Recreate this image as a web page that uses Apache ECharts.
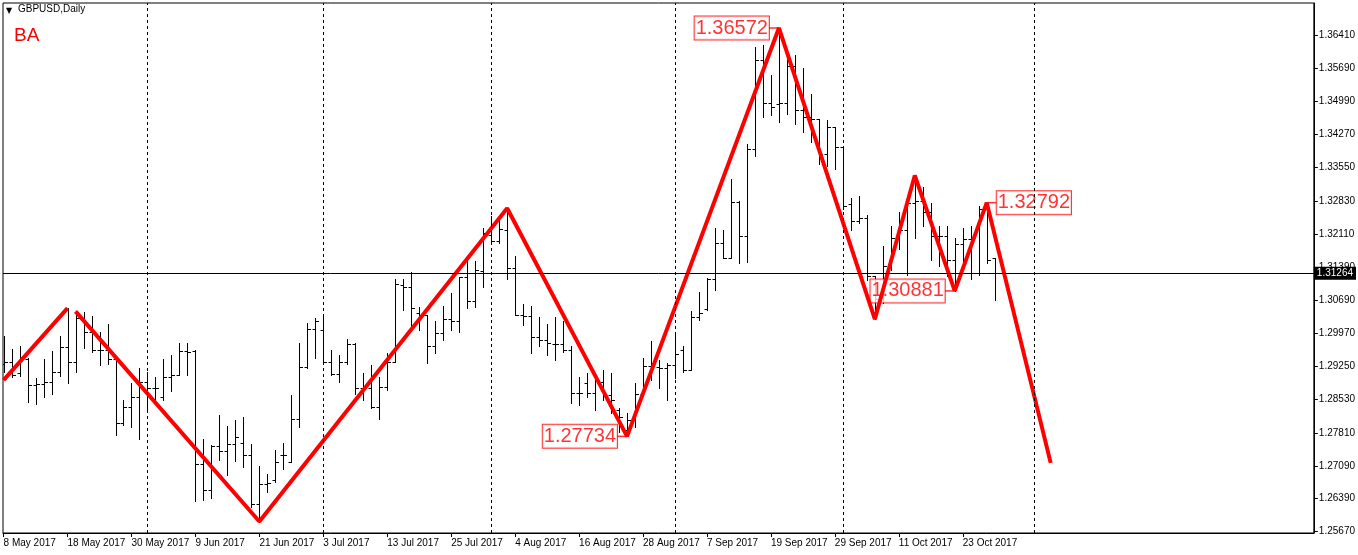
<!DOCTYPE html>
<html>
<head>
<meta charset="utf-8">
<script src="https://cdn.jsdelivr.net/npm/echarts@6/dist/echarts.min.js"></script>
<style>html,body{margin:0;padding:0;background:#fff}#c{width:1358px;height:555px}</style>
</head>
<body>
<div id="c"></div>
<script>
// ---- Data (GBPUSD Daily, one bar per trading day starting 8 May 2017) ----
const openP = [
1.2931,1.2935,1.2910,1.2940,1.2884,1.2886,1.2892,1.2913,1.2966,1.2935,
1.3030,1.3000,1.2960,1.2960,1.2940,1.2802,1.2836,1.2858,1.2892,1.2879,
1.2859,1.2902,1.2906,1.2958,1.2959,1.2714,1.2657,1.2752,1.2742,1.2756,
1.2759,1.2734,1.2628,1.2671,1.2678,1.2734,1.2718,1.2812,1.2923,1.3005,
1.3003,1.2934,1.2908,1.2934,1.2973,1.2879,1.2877,1.2836,1.2881,1.2935,
1.3102,1.3097,1.3040,1.3037,1.2970,1.2997,1.3028,1.3022,1.3118,1.3066,
1.3131,1.3210,1.3196,1.3221,1.3138,1.3037,1.3033,1.2989,1.2982,1.2973,
1.2973,1.2960,1.2868,1.2888,1.2868,1.2892,1.2863,1.2830,1.2787,1.2808,
1.2866,1.2926,1.2923,1.2921,1.2928,1.2960,1.2918,1.3031,1.3050,1.3114,
1.3192,1.3160,1.3281,1.3207,1.3395,1.3587,1.3495,1.3493,1.3495,1.3576,
1.3480,1.3465,1.3460,1.3384,1.3442,1.3399,1.3276,1.3240,1.3247,1.3120,
1.3075,1.3142,1.3203,1.3221,1.3279,1.3283,1.3258,1.3207,1.3207,1.3156,
1.3189,1.3200,1.3127,1.3265,1.3160];
const highP = [
1.2991,1.2962,1.2968,1.2942,1.2899,1.2940,1.2959,1.2991,1.3051,1.3044,
1.3042,1.3034,1.3000,1.3017,1.2942,1.2852,1.2888,1.2921,1.2913,1.2902,
1.2940,1.2950,1.2975,1.2976,1.2960,1.2768,1.2754,1.2819,1.2795,1.2808,
1.2815,1.2757,1.2710,1.2692,1.2744,1.2759,1.2863,1.2975,1.3018,1.3029,
1.3033,1.2960,1.2950,1.2984,1.2976,1.2910,1.2928,1.2902,1.2953,1.3114,
1.3113,1.3129,1.3053,1.3037,1.3022,1.3056,1.3084,1.3118,1.3160,1.3153,
1.3225,1.3250,1.3247,1.3267,1.3163,1.3060,1.3055,1.3031,1.3017,1.3031,
1.3022,1.2969,1.2901,1.2910,1.2895,1.2917,1.2910,1.2834,1.2823,1.2888,
1.2942,1.2980,1.2939,1.2932,1.3000,1.2968,1.3044,1.3085,1.3116,1.3225,
1.3221,1.3330,1.3283,1.3406,1.3616,1.3621,1.3555,1.36572,1.3598,1.3598,
1.3571,1.3515,1.3460,1.3457,1.3442,1.3402,1.3290,1.3294,1.3252,1.3120,
1.3185,1.3229,1.3258,1.3287,1.3338,1.3312,1.3279,1.3229,1.3229,1.3203,
1.3225,1.3229,1.3272,1.32792,1.3160];
const lowP = [
1.2913,1.2902,1.2905,1.2848,1.2844,1.2859,1.2866,1.2904,1.2888,1.2913,
1.2964,1.2957,1.2928,1.2931,1.2776,1.2797,1.2794,1.2768,1.2830,1.2844,
1.2853,1.2872,1.2906,1.2906,1.2634,1.2636,1.2641,1.2723,1.2689,1.2721,
1.2707,1.2620,1.2589,1.2652,1.2674,1.2703,1.2718,1.2794,1.2921,1.2942,
1.2931,1.2906,1.2892,1.2931,1.2866,1.2852,1.2834,1.2812,1.2873,1.2935,
1.3047,1.3004,1.3004,1.2933,1.2953,1.2982,1.3004,1.3000,1.3051,1.3053,
1.3097,1.3192,1.3192,1.3113,1.3037,1.3015,1.2953,1.2968,1.2950,1.2939,
1.2957,1.2846,1.2841,1.2859,1.2830,1.2852,1.2823,1.2783,1.27734,1.2794,
1.2860,1.2895,1.2877,1.2852,1.2900,1.2913,1.2917,1.3025,1.3047,1.3091,
1.3160,1.3160,1.3149,1.3151,1.3381,1.3464,1.3468,1.3453,1.3471,1.3450,
1.3432,1.3410,1.3363,1.3359,1.3352,1.3265,1.3221,1.3236,1.3112,1.3027,
1.3063,1.3134,1.3178,1.3123,1.3203,1.3229,1.3156,1.3142,1.3120,1.30881,
1.3134,1.3113,1.3123,1.3149,1.3069];
const closeP = [
1.2935,1.2906,1.2945,1.2884,1.2886,1.2892,1.2913,1.2966,1.2935,1.3030,
1.3000,1.2960,1.2960,1.2940,1.2802,1.2836,1.2858,1.2892,1.2879,1.2879,
1.2902,1.2906,1.2958,1.2957,1.2714,1.2657,1.2752,1.2742,1.2756,1.2772,
1.2734,1.2628,1.2671,1.2672,1.2718,1.2732,1.2812,1.2923,1.3005,1.3024,
1.2934,1.2908,1.2934,1.2973,1.2879,1.2877,1.2837,1.2881,1.2935,1.3104,
1.3097,1.3051,1.3037,1.2970,1.2997,1.3028,1.3024,1.3118,1.3066,1.3134,
1.3214,1.3196,1.3223,1.3138,1.3037,1.3033,1.2989,1.2982,1.2975,1.2973,
1.2960,1.2868,1.2868,1.2868,1.2895,1.2863,1.2852,1.2816,1.2808,1.2866,
1.2926,1.2931,1.2921,1.2928,1.2952,1.2918,1.3031,1.3040,1.3114,1.3192,
1.3160,1.3281,1.3207,1.3395,1.3587,1.3495,1.3486,1.3495,1.3576,1.3480,
1.3465,1.3460,1.3384,1.3442,1.3399,1.3272,1.3240,1.3247,1.3120,1.3070,
1.3142,1.3203,1.3221,1.3279,1.3283,1.3258,1.3207,1.3207,1.3156,1.3189,
1.3200,1.3127,1.3265,1.3156,1.31264];

// zigzag (trading-day index, price)
const zigAIdx = [0, 8];
const zigAPrice = [1.2895, 1.3051];
const zigBIdx = [9, 32, 63, 78, 97, 109, 114, 119, 123, 131];
const zigBPrice = [1.3044, 1.2589, 1.3267, 1.27734, 1.36572, 1.3027, 1.3338, 1.30881, 1.32792, 1.2716];

// price labels
const labelIdx = [78, 97, 119, 123];
const labelPrice = [1.27734, 1.36572, 1.30881, 1.32792];
const labelSide = ['left', 'left', 'left', 'right'];

// month separators (trading-day index)
const sepIdx = [18, 40, 61, 84, 105, 129];

const bidPrice = 1.31264;

// axis ticks
const xTickIdx = [0, 8, 16, 24, 32, 40, 48, 56, 64, 72, 80, 88, 96, 104, 112, 120];
const xTickLabels = ['8 May 2017','18 May 2017','30 May 2017','9 Jun 2017','21 Jun 2017','3 Jul 2017',
  '13 Jul 2017','25 Jul 2017','4 Aug 2017','16 Aug 2017','28 Aug 2017','7 Sep 2017','19 Sep 2017',
  '29 Sep 2017','11 Oct 2017','23 Oct 2017'];
const yTicks = [1.36410,1.35690,1.34990,1.34270,1.33550,1.32830,1.32110,1.31390,1.30690,
  1.29970,1.29250,1.28530,1.27810,1.27090,1.26390,1.25670];

// ---- Chart ----
const FONT = 'Liberation Sans';
const bars = openP.map((o, i) => [i, o, highP[i], lowP[i], closeP[i]]);

function renderBar(params, api) {
  const x = api.value(0);
  const o = api.coord([x, api.value(1)]);
  const h = api.coord([x, api.value(2)]);
  const l = api.coord([x, api.value(3)]);
  const c = api.coord([x, api.value(4)]);
  const px = Math.round(o[0]) + 0.5;
  const oy = Math.round(o[1]) + 0.5, cy = Math.round(c[1]) + 0.5;
  const st = { stroke: '#000', lineWidth: 1 };
  return {
    type: 'group',
    children: [
      { type: 'line', shape: { x1: px, y1: Math.round(h[1]), x2: px, y2: Math.round(l[1]) + 1 }, style: st },
      { type: 'line', shape: { x1: px - 3, y1: oy, x2: px, y2: oy }, style: st },
      { type: 'line', shape: { x1: px, y1: cy, x2: px + 3.5, y2: cy }, style: st }
    ]
  };
}

const chart = echarts.init(document.getElementById('c'), null, { renderer: 'canvas' });
chart.setOption({
  animation: false,
  backgroundColor: '#fff',
  title: [
    { text: '▼', left: 6, top: 7, padding: 0, textStyle: { fontSize: 8, color: '#000', fontWeight: 'normal', fontFamily: 'DejaVu Sans' } },
    { text: 'GBPUSD,Daily', left: 18, top: 4, padding: 0, textStyle: { fontSize: 10, color: '#000', fontWeight: 'normal', fontFamily: FONT } },
    { text: 'BA', left: 14, top: 26, padding: 0, textStyle: { fontSize: 19, color: '#ff0000', fontWeight: 'normal', fontFamily: FONT } }
  ],
  grid: { left: 3, right: 43, top: 3, bottom: 22, show: true, borderColor: '#000', borderWidth: 1, backgroundColor: '#fff' },
  xAxis: {
    type: 'value', min: -0.075, max: 163.925,
    axisLine: { show: true, onZero: false, lineStyle: { color: '#000', width: 1 } },
    axisTick: { show: true, customValues: xTickIdx, length: 4, lineStyle: { color: '#000' } },
    axisLabel: {
      customValues: xTickIdx, align: 'left', margin: 5, fontSize: 10, color: '#000', fontFamily: FONT,
      formatter: v => xTickLabels[xTickIdx.indexOf(Math.round(v))]
    },
    splitLine: { show: false }
  },
  yAxis: {
    type: 'value', position: 'right', min: 1.25642, max: 1.37113,
    axisLine: { show: true, onZero: false, lineStyle: { color: '#000', width: 1 } },
    axisTick: { show: true, customValues: yTicks, length: 4, lineStyle: { color: '#000' } },
    axisLabel: { customValues: yTicks, margin: 5, fontSize: 10, color: '#000', fontFamily: FONT, formatter: v => v.toFixed(5) },
    splitLine: { show: false }
  },
  series: [
    {
      name: 'levels', type: 'line', data: [], z: 1, silent: true,
      markLine: {
        silent: true, symbol: ['none', 'none'], animation: false, precision: 5,
        data: sepIdx.map(i => ({ xAxis: i, lineStyle: { type: [3, 3], color: '#000', width: 1 }, label: { show: false } }))
          .concat([{ yAxis: bidPrice, lineStyle: { type: 'solid', color: '#000', width: 1 },
            label: { show: true, position: 'end', distance: 0, formatter: bidPrice.toFixed(5), backgroundColor: '#000',
              color: '#fff', padding: [2, 3, 1, 3], fontSize: 10, fontFamily: FONT } }])
      }
    },
    {
      name: 'GBPUSD', type: 'custom', z: 2, clip: true, silent: true,
      renderItem: renderBar, encode: { x: 0, y: [1, 2, 3, 4] }, data: bars
    },
    {
      name: 'labels', type: 'scatter', z: 3, silent: true,
      symbol: 'rect', symbolSize: [10, 1.5], itemStyle: { color: '#ff0000' },
      data: labelIdx.map((x, i) => ({
        value: [x, labelPrice[i]],
        symbolOffset: [labelSide[i] === 'left' ? -5 : 5, 0],
        label: { position: labelSide[i] }
      })),
      label: {
        show: true, distance: 0, formatter: p => p.value[1].toFixed(5),
        fontSize: 20, lineHeight: 22, fontFamily: FONT, color: '#ff0000',
        backgroundColor: '#fff', borderColor: '#ff0000', borderWidth: 1, padding: [1, 1, 0, 1]
      }
    },
    {
      name: 'zigA', type: 'line', z: 4, silent: true, symbol: 'none',
      lineStyle: { color: '#ff0000', width: 4 },
      data: zigAIdx.map((x, i) => [x, zigAPrice[i]])
    },
    {
      name: 'zigB', type: 'line', z: 4, silent: true, symbol: 'none',
      lineStyle: { color: '#ff0000', width: 4 },
      data: zigBIdx.map((x, i) => [x, zigBPrice[i]])
    }
  ]
});
</script>
</body>
</html>
